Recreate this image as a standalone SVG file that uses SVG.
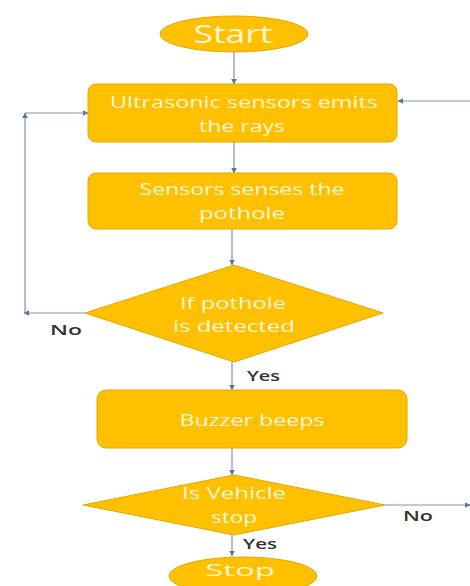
<svg xmlns="http://www.w3.org/2000/svg" width="470" height="586" viewBox="0 0 470 586">
<defs>
<marker id="ah" viewBox="0 0 10 10" refX="9" refY="5" markerWidth="6" markerHeight="6" orient="auto" markerUnits="userSpaceOnUse">
<path d="M0,0 L10,5 L0,10 z" fill="#5F77A0"/>
</marker>
</defs>
<style>
.shape{fill:#FFC000;stroke:#E3A900;stroke-width:1}
.t{font-family:"Open Sans","Liberation Sans",sans-serif;fill:#FFF6DA;text-anchor:middle;dominant-baseline:central;font-size:16px}
.big{font-size:25px}
.lbl{font-family:"Open Sans","Liberation Sans",sans-serif;fill:#333333;font-size:15px;font-weight:600;dominant-baseline:central}
.c{fill:none;stroke:#7E93B8;stroke-width:1.2;marker-end:url(#ah)}
</style>
<rect width="470" height="586" fill="#FFFFFF"/>
<g id="connectors">
<path class="c" d="M234,52 L234,84"/>
<path class="c" d="M470,101 L398,101"/>
<path class="c" d="M234,142 L234,173"/>
<path class="c" d="M232,229 L232,265"/>
<path class="c" d="M85,313 L24,313"/>
<path class="c" d="M25,313 L25,113"/>
<path class="c" d="M25,113 L88,113"/>
<path class="c" d="M232,362 L232,390"/>
<path class="c" d="M232,448 L232,475"/>
<path class="c" d="M385,505 L470,505"/>
<path class="c" d="M232,535 L232,556"/>
</g>
<g id="start">
<ellipse class="shape" cx="234" cy="34" rx="74" ry="18"/>
<text class="t big" x="233" y="33" textLength="79" lengthAdjust="spacingAndGlyphs">Start</text>
</g>
<g id="emit">
<rect class="shape" x="88" y="84" width="309" height="58" rx="8"/>
<text class="t" x="244" y="102" textLength="268" lengthAdjust="spacingAndGlyphs">Ultrasonic sensors emits</text>
<text class="t" x="242" y="126" textLength="86" lengthAdjust="spacingAndGlyphs">the rays</text>
</g>
<g id="sense">
<rect class="shape" x="88" y="173" width="309" height="56" rx="8"/>
<text class="t" x="242" y="189" textLength="205" lengthAdjust="spacingAndGlyphs">Sensors senses the</text>
<text class="t" x="242" y="213" textLength="86" lengthAdjust="spacingAndGlyphs">pothole</text>
</g>
<g id="detect">
<polygon class="shape" points="234,265 383,313 234,362 85,313"/>
<text class="t" x="233" y="303" textLength="106" lengthAdjust="spacingAndGlyphs">If pothole</text>
<text class="t" x="234" y="326" textLength="122" lengthAdjust="spacingAndGlyphs">is detected</text>
</g>
<g id="buzzer">
<rect class="shape" x="97" y="390" width="310" height="58" rx="9"/>
<text class="t" x="252" y="420" textLength="145" lengthAdjust="spacingAndGlyphs">Buzzer beeps</text>
</g>
<g id="vstop">
<polygon class="shape" points="234,475 385,505 234,535 83,505"/>
<text class="t" x="234" y="493" textLength="104" lengthAdjust="spacingAndGlyphs">Is Vehicle</text>
<text class="t" x="234" y="517" textLength="46" lengthAdjust="spacingAndGlyphs">stop</text>
</g>
<g id="stop">
<ellipse class="shape" cx="243" cy="576" rx="74" ry="19"/>
<text class="t" x="240" y="570" font-size="23" textLength="70" lengthAdjust="spacingAndGlyphs">Stop</text>
</g>
<g id="labels">
<text class="lbl" x="50" y="329" textLength="32" lengthAdjust="spacingAndGlyphs">No</text>
<text class="lbl" x="247" y="375" textLength="33" lengthAdjust="spacingAndGlyphs">Yes</text>
<text class="lbl" x="403" y="515" textLength="30" lengthAdjust="spacingAndGlyphs">No</text>
<text class="lbl" x="243" y="543" textLength="34" lengthAdjust="spacingAndGlyphs">Yes</text>
</g>
</svg>
